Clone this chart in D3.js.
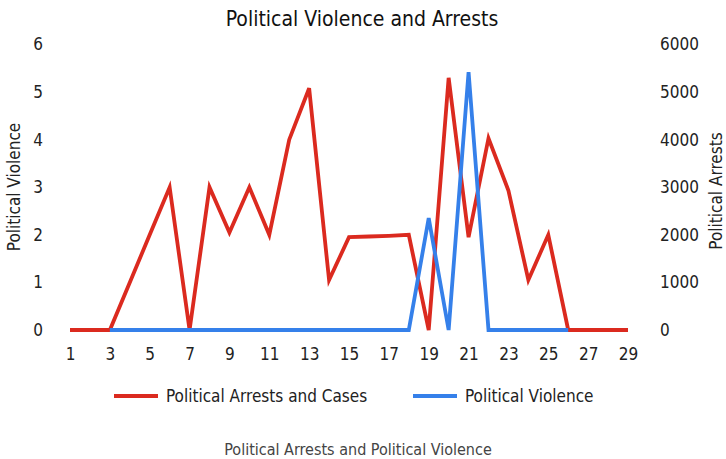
<!DOCTYPE html>
<html>
<head>
<meta charset="utf-8">
<script src="https://cdn.jsdelivr.net/npm/d3@7"></script>
<style>
  html, body { margin: 0; padding: 0; background: #fff; }
  svg { display: block; }
  text { font-family: "DejaVu Sans Condensed", "Liberation Sans Narrow", "Liberation Sans", sans-serif; }
</style>
</head>
<body>
<svg id="chart" width="726" height="459"></svg>
<script>
// Periods along the x axis
const periods = d3.range(1, 30);
const periodTicks = d3.range(1, 30, 2);

// Political arrests and cases per period (right axis)
const arrests = [0, 0, 0, 1000, 2000, 3000, 0, 3000, 2050, 3000,
                 2000, 4000, 5080, 1050, 1950, 1965, 1980, 2000, 0, 5300,
                 1950, 4030, 2930, 1050, 2000, 0, 0, 0, 0];

// Political violence per period (left axis); no data outside periods 3-26
const violence = [null, null, 0, 0, 0, 0, 0, 0, 0, 0,
                  0, 0, 0, 0, 0, 0, 0, 0, 2.35, 0,
                  5.42, 0, 0, 0, 0, 0, null, null, null];

const leftTicks = [0, 1, 2, 3, 4, 5, 6];
const rightTicks = [0, 1000, 2000, 3000, 4000, 5000, 6000];

const titleText = "Political Violence and Arrests";
const leftTitle = "Political Violence";
const rightTitle = "Political Arrests";
const captionText = "Political Arrests and Political Violence";
const seriesNames = ["Political Arrests and Cases", "Political Violence"];
const seriesColors = ["#db2a1f", "#3580ea"];

const svg = d3.select("#chart");
const plot = { left: 70, right: 628, top: 44.5, bottom: 330 };

const x = d3.scalePoint().domain(periods).range([plot.left, plot.right]);
const yLeft = d3.scaleLinear().domain([0, 6]).range([plot.bottom, plot.top]);
const yRight = d3.scaleLinear().domain([0, 6000]).range([plot.bottom, plot.top]);

const textColor = "#222";
const plain = d3.format("d");

// Title
svg.append("text")
  .attr("x", 362).attr("y", 26)
  .attr("text-anchor", "middle")
  .attr("font-size", 21)
  .attr("fill", "#111")
  .text(titleText);

// Left axis (labels only)
const leftAxis = d3.axisLeft(yLeft).tickValues(leftTicks).tickFormat(plain).tickSize(0).tickPadding(0);
const gl = svg.append("g").attr("transform", "translate(43,0)").call(leftAxis);
gl.select(".domain").remove();
gl.selectAll("text").attr("font-size", 17).attr("fill", textColor).attr("font-family", null);

// Right axis (labels only)
const rightAxis = d3.axisRight(yRight).tickValues(rightTicks).tickFormat(plain).tickSize(0).tickPadding(0);
const gr = svg.append("g").attr("transform", "translate(660,0)").call(rightAxis);
gr.select(".domain").remove();
gr.selectAll("text").attr("font-size", 17).attr("fill", textColor).attr("font-family", null);

// Bottom axis (labels only, every other period)
const bottomAxis = d3.axisBottom(x).tickValues(periodTicks).tickFormat(plain).tickSize(0).tickPadding(0);
const gb = svg.append("g").attr("transform", "translate(0,348)").call(bottomAxis);
gb.select(".domain").remove();
gb.selectAll("text").attr("font-size", 17).attr("fill", textColor).attr("font-family", null);

// Axis titles
svg.append("text")
  .attr("transform", "translate(20,187) rotate(-90)")
  .attr("text-anchor", "middle")
  .attr("font-size", 17)
  .attr("fill", textColor)
  .text(leftTitle);

svg.append("text")
  .attr("transform", "translate(722,191) rotate(-90)")
  .attr("text-anchor", "middle")
  .attr("font-size", 17)
  .attr("fill", textColor)
  .text(rightTitle);

// Series lines
const arrestsLine = d3.line()
  .x((d, i) => x(periods[i]))
  .y(d => yRight(d));

const violenceLine = d3.line()
  .defined(d => d !== null)
  .x((d, i) => x(periods[i]))
  .y(d => yLeft(d));

svg.append("path")
  .datum(arrests)
  .attr("d", arrestsLine)
  .attr("fill", "none")
  .attr("stroke", seriesColors[0])
  .attr("stroke-width", 3.8);

svg.append("path")
  .datum(violence)
  .attr("d", violenceLine)
  .attr("fill", "none")
  .attr("stroke", seriesColors[1])
  .attr("stroke-width", 3.8);

// Legend
const legendItems = [
  { name: seriesNames[0], color: seriesColors[0], x: 114 },
  { name: seriesNames[1], color: seriesColors[1], x: 413 }
];
const lg = svg.append("g");
legendItems.forEach(item => {
  lg.append("line")
    .attr("x1", item.x).attr("x2", item.x + 44)
    .attr("y1", 396).attr("y2", 396)
    .attr("stroke", item.color)
    .attr("stroke-width", 3.8);
  lg.append("text")
    .attr("x", item.x + 52).attr("y", 402)
    .attr("font-size", 17)
    .attr("fill", textColor)
    .text(item.name);
});

// Caption
svg.append("text")
  .attr("x", 358).attr("y", 455)
  .attr("text-anchor", "middle")
  .attr("font-size", 16)
  .attr("fill", "#444")
  .text(captionText);
</script>
</body>
</html>
